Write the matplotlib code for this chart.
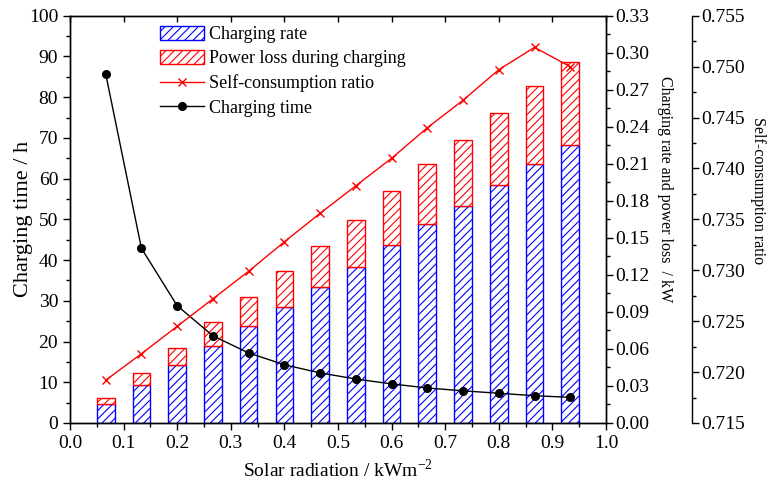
import matplotlib
matplotlib.use("Agg")
import matplotlib.pyplot as plt
from matplotlib.ticker import MultipleLocator, FormatStrFormatter
import numpy as np

plt.rcParams['font.family'] = ['Liberation Serif', 'DejaVu Serif']
plt.rcParams['mathtext.fontset'] = 'custom'
plt.rcParams['mathtext.rm'] = 'Liberation Serif'
plt.rcParams['hatch.linewidth'] = 0.8

# data
radiation = [0.0667, 0.1333, 0.2, 0.2667, 0.3333, 0.4, 0.4667,
             0.5333, 0.6, 0.6667, 0.7333, 0.8, 0.8667, 0.9333]
charging_time = [85.7, 42.9, 28.8, 21.4, 17.2, 14.3, 12.3,
                 10.8, 9.6, 8.6, 7.9, 7.3, 6.7, 6.3]
charging_rate = [0.0154, 0.0310, 0.0467, 0.0626, 0.0783, 0.0944, 0.1106,
                 0.1268, 0.1446, 0.1614, 0.1762, 0.1932, 0.2097, 0.2253]
power_loss = [0.0048, 0.0095, 0.0140, 0.0189, 0.0237, 0.0284, 0.0332,
              0.0381, 0.0435, 0.0488, 0.0529, 0.0577, 0.0631, 0.0675]
self_ratio = [0.7192, 0.7218, 0.7245, 0.7272, 0.7299, 0.7328, 0.7356,
              0.7383, 0.7410, 0.7440, 0.7467, 0.7497, 0.7519, 0.7500]

TICK_FS = 14

fig = plt.figure(figsize=(7.69, 4.93), dpi=100)
ax_kw = fig.add_axes([0.091, 0.142, 0.697, 0.826])

# bars (kW axis, drawn first so lines sit on top)
bw = 0.033
b1 = ax_kw.bar(radiation, charging_rate, width=bw, facecolor='white',
               edgecolor='blue', hatch='////', linewidth=1.0, label='Charging rate')
b2 = ax_kw.bar(radiation, power_loss, width=bw, bottom=charging_rate,
               facecolor='white', edgecolor='red', hatch='////', linewidth=1.0,
               label='Power loss during charging')
ax_kw.set_xlim(0, 1.0)
ax_kw.set_ylim(0, 0.33)
ax_kw.yaxis.set_major_locator(MultipleLocator(0.03))
ax_kw.yaxis.set_minor_locator(MultipleLocator(0.015))
ax_kw.yaxis.set_major_formatter(FormatStrFormatter('%.2f'))
ax_kw.xaxis.set_major_locator(MultipleLocator(0.1))
ax_kw.xaxis.set_minor_locator(MultipleLocator(0.05))
ax_kw.xaxis.set_major_formatter(FormatStrFormatter('%.1f'))
ax_kw.set_xlabel('Solar radiation / kWm$^{-2}$', fontsize=14, labelpad=5)

# charging time on left axis
ax_t = ax_kw.twinx()
ax_t.yaxis.tick_left()
ax_t.yaxis.set_label_position('left')
ax_t.set_ylim(0, 100)
ax_t.yaxis.set_major_locator(MultipleLocator(10))
ax_t.yaxis.set_minor_locator(MultipleLocator(5))
ax_t.tick_params(axis='y', which='major', length=5, width=1, labelsize=TICK_FS, direction='out')
ax_t.tick_params(axis='y', which='minor', length=3, width=1, direction='out')
ax_t.xaxis.set_visible(True)
ax_t.tick_params(axis='x', which='major', bottom=False, labelbottom=False,
                 top=True, labeltop=False, direction='in', length=4, width=1)
ax_t.tick_params(axis='x', which='minor', bottom=False, top=False)
l_time, = ax_t.plot(radiation, charging_time, color='black', lw=1.0,
                    marker='o', markersize=5.5, label='Charging time')
ax_t.set_ylabel('Charging time / h', fontsize=16, labelpad=-3)

# self-consumption ratio on offset right axis
ax_r = ax_kw.twinx()
ax_r.spines['right'].set_position(('axes', 1.16))
ax_r.spines['right'].set_bounds(0.715, 0.755)
ax_r.set_ylim(0.715, 0.755)
ax_r.yaxis.set_major_locator(MultipleLocator(0.005))
ax_r.yaxis.set_minor_locator(MultipleLocator(0.0025))
ax_r.yaxis.set_major_formatter(FormatStrFormatter('%.3f'))
ax_r.tick_params(axis='y', which='major', length=5, width=1, pad=2,
                 labelsize=TICK_FS, direction='out')
ax_r.tick_params(axis='y', which='minor', length=3, width=1, direction='out')
for s in ['top', 'left', 'bottom']:
    ax_r.spines[s].set_visible(False)
l_ratio, = ax_r.plot(radiation, self_ratio, color='red', lw=1.0,
                     marker='x', markersize=6, label='Self-consumption ratio')
ax_r.set_ylabel('Self-consumption ratio', fontsize=11.5, rotation=270,
                va='center')
ax_r.yaxis.set_label_coords(1.284, 0.57)

# twinx moved the kW ticks to the left, put them back on the right
ax_kw.yaxis.tick_right()
ax_kw.yaxis.set_label_position('right')
ax_kw.tick_params(which='major', length=5, width=1, labelsize=TICK_FS, direction='out')
ax_kw.tick_params(axis='y', which='major', pad=2)
ax_kw.tick_params(which='minor', length=3, width=1, direction='out')
ax_kw.tick_params(axis='x', top=False, which='both')
ax_kw.set_ylabel('Charging rate and power loss  / kW', fontsize=11.5,
                 rotation=270, va='center')
ax_kw.yaxis.set_label_coords(1.111, 0.575)

for a in (ax_kw, ax_t, ax_r):
    for s in a.spines.values():
        s.set_linewidth(1.0)

ax_r.legend([b1, b2, l_ratio, l_time],
            ['Charging rate', 'Power loss during charging',
             'Self-consumption ratio', 'Charging time'],
            loc='upper left', bbox_to_anchor=(0.15, 1.0), frameon=False,
            fontsize=13, handlelength=2.4, handleheight=0.8,
            labelspacing=0.4, handletextpad=0.3, borderpad=0.05)

fig.savefig('out.png', dpi=100)
